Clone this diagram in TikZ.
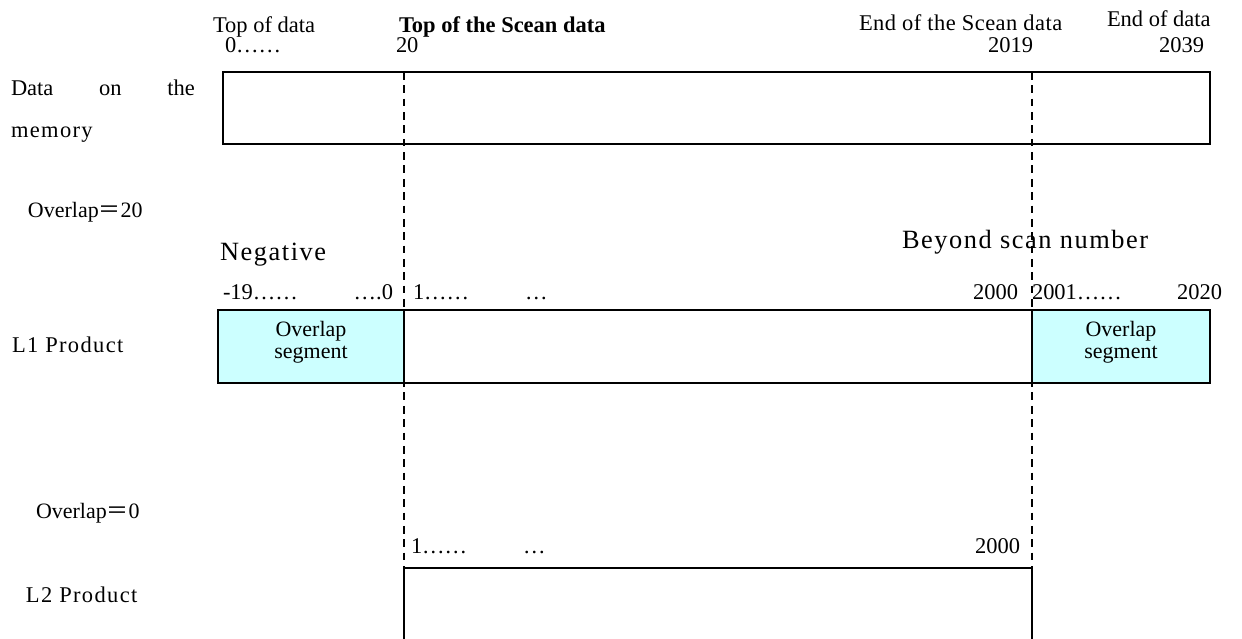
\documentclass[tikz,border=0pt]{standalone}
\usepackage{fontspec}
\setmainfont{Liberation Serif}
\newfontfamily\widefont[LetterSpace=6]{Liberation Serif}
\newfontfamily\midfont[LetterSpace=2]{Liberation Serif}
\newfontfamily\cjk{Noto Sans CJK JP}
\usepackage{xcolor}
\definecolor{segcyan}{RGB}{204,255,255}
\newcommand{\fweq}{{\cjk ＝}}

\begin{document}
\begin{tikzpicture}[x=0.02cm, y=-0.02cm,
  every node/.style={inner sep=0pt, outer sep=0pt},
  txt/.style={font=\fontsize{12.8}{15}\selectfont},
  boldtxt/.style={font=\fontsize{12.8}{15}\selectfont\bfseries},
  widetxt/.style={font=\fontsize{12.8}{15}\widefont},
  midtxt/.style={font=\fontsize{12.8}{15}\midfont},
  bigtxt/.style={font=\fontsize{15}{18}\widefont},
  segtxt/.style={font=\fontsize{12.5}{15}\selectfont},
  box/.style={draw, line width=1.1pt},
  segbox/.style={draw, line width=1.1pt, fill=segcyan},
  cutline/.style={line width=1pt, dash pattern=on 4.4pt off 3.2pt}]

  \useasboundingbox (0,0) rectangle (1242,639);

  % header
  \node[txt, anchor=base west] (topdata) at (213,32) {Top of data};
  \node[txt, anchor=base west] (topidx) at (225,52) {0……};
  \node[boldtxt, anchor=base west] (topscan) at (399,32) {Top of the Scean data};
  \node[txt, anchor=base west] (topscanidx) at (396,52) {20};
  \node[midtxt, anchor=base west] (endscan) at (859,31) {End of the Scean data};
  \node[txt, anchor=base east] (endscanidx) at (1033,52) {2019};
  \node[txt, anchor=base west] (enddata) at (1107,27) {End of data};
  \node[txt, anchor=base east] (endidx) at (1204,52) {2039};

  % memory
  \node[txt, anchor=base west] (memlbl) at (11,95) {\makebox[3.68cm][s]{Data\hfill on\hfill the}};
  \node[widetxt, anchor=base west] (memlbl2) at (11,137) {memory};
  \draw[box] (223,72) rectangle (1210,144);

  % L1
  \node[segtxt, anchor=base west] (ovlone) at (28,217) {Overlap\fweq 20};
  \node[bigtxt, anchor=base west] (neg) at (220,260) {Negative};
  \node[bigtxt, anchor=base west] (beyond) at (902,248) {Beyond scan number};
  \node[txt, anchor=base west] (idxa) at (223,299) {-19……};
  \node[txt, anchor=base east] (idxb) at (393,299) {….0};
  \node[txt, anchor=base west] (idxc) at (413,299) {1……};
  \node[txt, anchor=base west] (idxd) at (525,299) {…};
  \node[txt, anchor=base east] (idxe) at (1018,299) {2000};
  \node[txt, anchor=base west] (idxf) at (1032,299) {2001……};
  \node[txt, anchor=base east] (idxg) at (1222,299) {2020};
  \node[widetxt, anchor=base west] (lonelbl) at (12,352) {L1 Product};
  \draw[segbox] (218,310) rectangle (404,383);
  \draw[segbox] (1032,310) rectangle (1210,383);
  \draw[box] (218,310) rectangle (1210,383);
  \node[segtxt, anchor=base] (segla) at (311,336) {Overlap};
  \node[segtxt, anchor=base] (seglb) at (311,358) {segment};
  \node[segtxt, anchor=base] (segra) at (1121,336) {Overlap};
  \node[segtxt, anchor=base] (segrb) at (1121,358) {segment};

  % L2
  \node[segtxt, anchor=base west] (ovltwo) at (36,518) {Overlap\fweq 0};
  \node[txt, anchor=base west] (ltwoa) at (411,553) {1……};
  \node[txt, anchor=base west] (ltwob) at (523,553) {…};
  \node[txt, anchor=base east] (ltwoc) at (1020,553) {2000};
  \node[widetxt, anchor=base west] (ltwolbl) at (26,602) {L2 Product};
  \draw[box] (404,639) -- (404,568) -- (1032,568) -- (1032,639);

  \coordinate (cutatop) at (404,72);
  \coordinate (cutabot) at (404,568);
  \coordinate (cutbtop) at (1032,72);
  \coordinate (cutbbot) at (1032,568);
  \draw[cutline] (cutatop) -- (cutabot);
  \draw[cutline] (cutbtop) -- (cutbbot);
\end{tikzpicture}
\end{document}
